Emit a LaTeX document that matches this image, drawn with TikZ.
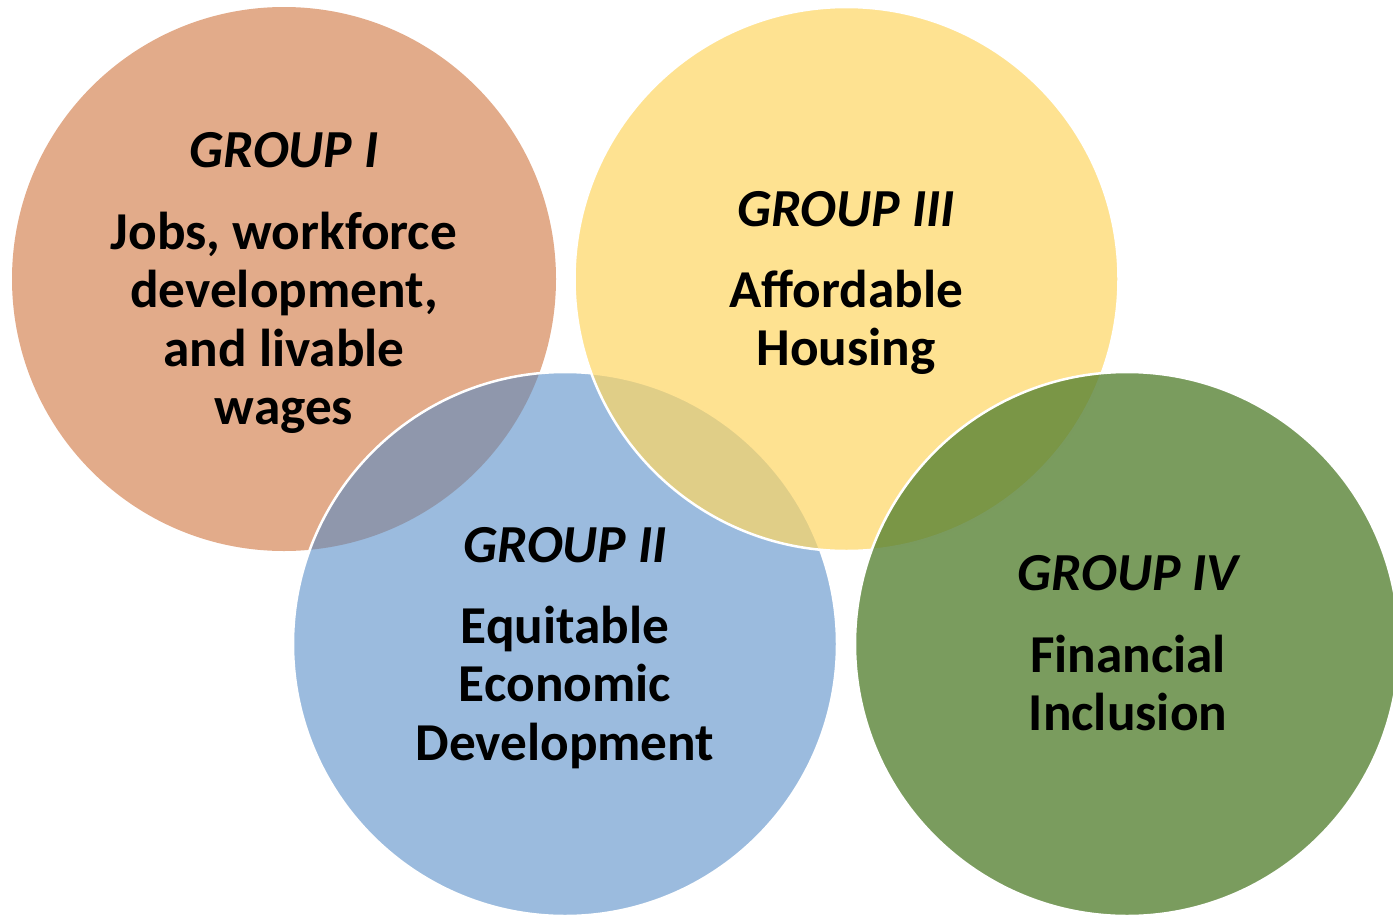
\documentclass[tikz,border=0pt]{standalone}
\usepackage{fontspec}
\setmainfont{Carlito}
\definecolor{corange}{HTML}{E2AB8A}
\definecolor{cblue}{RGB}{83,138,198}
\definecolor{cyellow}{RGB}{254,214,99}
\definecolor{cgreen}{RGB}{85,128,49}
\tikzset{
  venn/.style={draw=white, line width=2.5pt},
  title/.style={anchor=base, font=\fontsize{53.5}{58.5}\selectfont\bfseries\itshape, inner sep=0pt},
  body/.style={anchor=base, align=center, font=\fontsize{53.3}{58.5}\selectfont\bfseries, inner sep=0pt}
}
\begin{document}
\begin{tikzpicture}[x=1pt,y=-1pt]
\useasboundingbox (0,0) rectangle (1393,916);
\begin{scope}
\clip (0,0) rectangle (1393,916);
\fill[corange] (284,279) circle (272);
\draw[venn, fill=cblue, fill opacity=0.58] (565,644) circle (272);
\draw[venn, fill=cyellow, fill opacity=0.7] (846.5,279) circle (272);
\draw[venn, fill=cgreen, fill opacity=0.78] (1127,644) circle (272);
\end{scope}
\node[title] (t1) at (284,167) {GROUP I};
\node[body] (b1) at (284,424.5) {Jobs, workforce\\development,\\and livable\\wages};
\node[title] (t3) at (846,226) {GROUP III};
\node[body] (b3) at (846,365.5) {Affordable\\Housing};
\node[title] (t2) at (565,562) {GROUP II};
\node[body] (b2) at (565,760) {Equitable\\Economic\\Development};
\node[title] (t4) at (1128,590) {GROUP IV};
\node[body] (b4) at (1128,730.5) {Financial\\Inclusion};
\end{tikzpicture}
\end{document}
